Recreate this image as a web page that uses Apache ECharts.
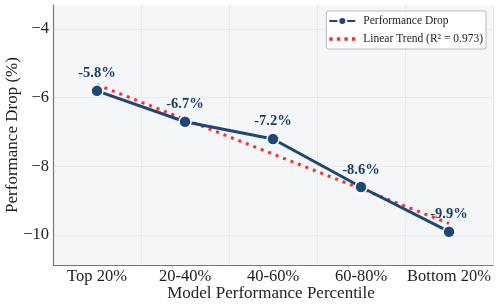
<!DOCTYPE html>
<html><head><meta charset="utf-8">
<script src="https://cdn.jsdelivr.net/npm/echarts@6/dist/echarts.min.js"></script>
<style>html,body{margin:0;padding:0;background:#fff}#c{width:498px;height:307px}</style>
</head><body><div id="c"></div>
<script>
var categories = ['Top 20%', '20-40%', '40-60%', '60-80%', 'Bottom 20%'];
var dropValues = [-5.8, -6.7, -7.2, -8.6, -9.9];
var trendValues = [-5.62, -6.63, -7.64, -8.65, -9.66];
var yTicks = [-10, -8, -6, -4];
var xTitle = 'Model Performance Percentile';
var yTitle = 'Performance Drop (%)';

var font = '"Liberation Serif", "DejaVu Serif", serif';
var chart = echarts.init(document.getElementById('c'), null, {renderer: 'canvas'});
chart.setOption({
  animation: false,
  backgroundColor: '#fff',
  grid: {left: 53, right: 5, top: 5, bottom: 42, show: true, backgroundColor: '#f5f6f8', borderWidth: 0,
    containLabel: false, outerBoundsMode: 'none'},
  graphic: [
    {type: 'text', x: 271, y: 294, style: {text: xTitle, font: '17px ' + font, fill: '#222', align: 'center', verticalAlign: 'middle'}},
    {type: 'text', x: 13, y: 135, rotation: Math.PI / 2, style: {text: yTitle, font: '17px ' + font, fill: '#222', align: 'center', verticalAlign: 'middle'}}
  ],
  legend: {
    right: 12, top: 11, orient: 'vertical', itemGap: 6, itemWidth: 26, itemHeight: 10,
    backgroundColor: '#fff', borderColor: '#bbb', borderWidth: 1, borderRadius: 2, padding: [4, 3, 4, 2],
    textStyle: {fontFamily: font, fontSize: 11.5, color: '#222', padding: [0, 0, 0, 3]},
    data: [
      {name: 'Performance Drop'},
      {name: 'Linear Trend (R² = 0.973)', icon: 'path://M0,0h4v4h-4zM9,0h4v4h-4zM18,0h4v4h-4zM27,0h4v4h-4z', itemStyle: {color: '#ff2a2a'}}
    ]
  },
  xAxis: {
    type: 'category', data: categories, boundaryGap: true,
    axisLine: {lineStyle: {color: '#777', width: 1.2}},
    axisTick: {show: false},
    axisLabel: {fontFamily: font, fontSize: 16.5, color: '#222', margin: 3, interval: 0},
    splitLine: {show: true, lineStyle: {color: '#e8e9ec', width: 1}}
  },
  yAxis: {
    type: 'value', min: -10.87, max: -3.3,
    axisLine: {show: true, lineStyle: {color: '#777', width: 1.2}},
    axisLabel: {fontFamily: font, fontSize: 16.5, color: '#222', margin: 4,
      customValues: yTicks,
      formatter: function (v) { return String(v).replace('-', '\u2212'); }},
    axisTick: {show: false, customValues: yTicks},
    splitLine: {show: true, lineStyle: {color: '#e8e9ec', width: 1}}
  },
  series: [
    {
      name: 'Performance Drop', type: 'line', data: dropValues, z: 3,
      symbol: 'circle', symbolSize: 12,
      lineStyle: {color: '#1f4676', width: 3},
      itemStyle: {color: '#1f4676', borderColor: '#fff', borderWidth: 1.5},
      label: {show: true, position: 'top', distance: 3, fontFamily: font, fontSize: 14.5, fontWeight: 'bold', color: '#1a3c68',
        formatter: function (p) { return p.value.toFixed(1) + '%'; }}
    },
    {
      name: 'Linear Trend (R² = 0.973)', type: 'line', data: trendValues, z: 2,
      symbol: 'none',
      lineStyle: {color: '#ff2a2a', width: 3, type: [3, 5]},
      itemStyle: {color: '#ff2a2a'}
    }
  ]
});
</script></body></html>
